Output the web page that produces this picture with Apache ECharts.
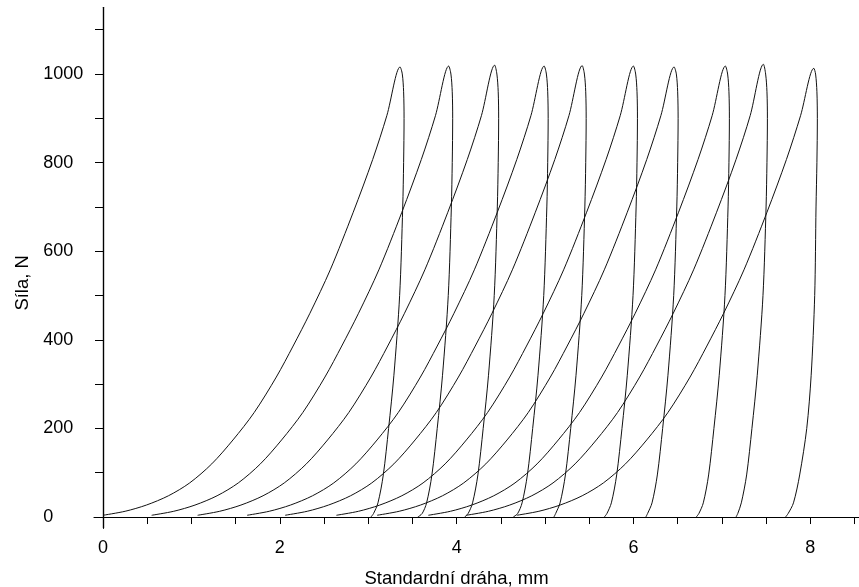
<!DOCTYPE html>
<html>
<head>
<meta charset="utf-8">
<script src="https://cdn.jsdelivr.net/npm/echarts@6/dist/echarts.min.js"></script>
<style>
  html, body { margin: 0; padding: 0; background: #fff; }
  #chart { width: 859px; height: 587px; }
</style>
</head>
<body>
<div id="chart"></div>
<script>
// tick and label positions
var xTicks = [0, 0.5, 1, 1.5, 2, 2.5, 3, 3.5, 4, 4.5, 5, 5.5, 6, 6.5, 7, 7.5, 8, 8.5];
var xLabels = [0, 2, 4, 6, 8];
var yTicks = [0, 100, 200, 300, 400, 500, 600, 700, 800, 900, 1000, 1100];
var yLabels = [0, 200, 400, 600, 800, 1000];

// force levels (N) at which the loading branch was read
var loadForce = [4, 13, 27, 48, 77, 120, 174, 236, 316, 386, 460, 558, 688, 807, 906];
// displacement (mm) of each loading branch at those force levels
var loadDisp = [
  [0.00, 0.25, 0.49, 0.74, 0.98, 1.23, 1.47, 1.71, 1.96, 2.15, 2.34, 2.57, 2.83, 3.05, 3.21],
  [0.55, 0.80, 1.04, 1.29, 1.53, 1.78, 2.02, 2.26, 2.51, 2.70, 2.89, 3.12, 3.38, 3.60, 3.76],
  [1.07, 1.32, 1.56, 1.81, 2.05, 2.30, 2.54, 2.78, 3.03, 3.22, 3.41, 3.64, 3.90, 4.12, 4.28],
  [1.63, 1.88, 2.12, 2.37, 2.61, 2.86, 3.10, 3.34, 3.59, 3.78, 3.97, 4.20, 4.46, 4.68, 4.84],
  [2.06, 2.31, 2.55, 2.80, 3.04, 3.29, 3.53, 3.77, 4.02, 4.21, 4.40, 4.63, 4.89, 5.11, 5.27],
  [2.64, 2.89, 3.13, 3.38, 3.62, 3.87, 4.11, 4.35, 4.60, 4.79, 4.98, 5.21, 5.47, 5.69, 5.85],
  [3.10, 3.35, 3.59, 3.84, 4.08, 4.33, 4.57, 4.81, 5.06, 5.25, 5.44, 5.67, 5.93, 6.15, 6.31],
  [3.68, 3.93, 4.17, 4.42, 4.66, 4.91, 5.15, 5.39, 5.64, 5.83, 6.02, 6.25, 6.51, 6.73, 6.89],
  [4.11, 4.36, 4.60, 4.85, 5.09, 5.34, 5.58, 5.82, 6.07, 6.26, 6.45, 6.68, 6.94, 7.16, 7.32],
  [4.68, 4.93, 5.17, 5.42, 5.66, 5.91, 6.15, 6.39, 6.64, 6.83, 7.02, 7.25, 7.51, 7.73, 7.89]
];

// peak of every cycle
var peakDisp = [3.36, 3.91, 4.43, 4.99, 5.42, 6.00, 6.46, 7.04, 7.47, 8.04];
var peakForce = [1016, 1018, 1020, 1018, 1019, 1018, 1016, 1018, 1022, 1013];

// unloading branch
var unloadForce = [1000, 960, 900, 800, 700, 500, 320, 200, 95, 32, 8, 0];
var unloadDisp = [
  [3.385, 3.40, 3.405, 3.40, 3.39, 3.355, 3.29, 3.23, 3.17, 3.11, 3.06, 3.03],
  [3.935, 3.95, 3.955, 3.95, 3.94, 3.905, 3.84, 3.78, 3.72, 3.66, 3.61, 3.56],
  [4.455, 4.47, 4.475, 4.47, 4.46, 4.425, 4.36, 4.30, 4.24, 4.18, 4.13, 4.09],
  [5.015, 5.03, 5.035, 5.03, 5.02, 4.985, 4.92, 4.86, 4.80, 4.74, 4.69, 4.64],
  [5.445, 5.46, 5.465, 5.46, 5.45, 5.415, 5.35, 5.29, 5.23, 5.17, 5.12, 5.10],
  [6.025, 6.04, 6.045, 6.04, 6.03, 5.995, 5.93, 5.87, 5.81, 5.75, 5.70, 5.67],
  [6.485, 6.50, 6.505, 6.50, 6.49, 6.455, 6.39, 6.33, 6.27, 6.21, 6.16, 6.14],
  [7.065, 7.08, 7.085, 7.08, 7.07, 7.035, 6.97, 6.91, 6.85, 6.79, 6.74, 6.71],
  [7.495, 7.51, 7.515, 7.51, 7.50, 7.465, 7.40, 7.34, 7.28, 7.22, 7.18, 7.16],
  [8.06, 8.075, 8.08, 8.075, 8.065, 8.05, 8.01, 7.96, 7.88, 7.81, 7.75, 7.72]
];

var font = "'Liberation Sans', Arial, sans-serif";
var axisColor = '#000';

var series = [];
for (var i = 0; i < peakDisp.length; i++) {
  var pts = [];
  loadDisp[i].forEach(function (x, k) { pts.push([x, loadForce[k]]); });
  pts.push([peakDisp[i], peakForce[i]]);
  unloadDisp[i].forEach(function (x, k) { pts.push([x, unloadForce[k]]); });
  series.push({
    type: 'line',
    xAxisIndex: 0,
    yAxisIndex: 0,
    data: pts,
    showSymbol: false,
    smooth: 0.3,
    lineStyle: { color: '#111', width: 1 },
    silent: true
  });
}

// second axis of each pair only draws ticks on the other side of the line
function xAxisCfg(pos, main) {
  return {
    type: 'value',
    position: pos,
    min: -0.1,
    max: 8.55,
    splitLine: { show: false },
    axisLine: { show: true, onZero: true, onZeroAxisIndex: 0, lineStyle: { color: axisColor, width: 1.2 } },
    axisTick: { show: true, inside: !main, customValues: xTicks, length: 7,
                lineStyle: { color: axisColor, width: 1 } },
    axisLabel: main
      ? { customValues: xLabels, margin: 11, fontSize: 18, color: '#000', fontFamily: font,
          formatter: function (v) { return String(v); } }
      : { show: false },
    name: main ? 'Standardní dráha, mm' : '',
    nameLocation: 'middle',
    nameGap: 41,
    nameTextStyle: { fontSize: 18.5, color: '#000', fontFamily: font, padding: [0, 40, 0, 0] }
  };
}

function yAxisCfg(pos, main) {
  return {
    type: 'value',
    position: pos,
    min: -25,
    max: 1150,
    splitLine: { show: false },
    axisLine: { show: true, onZero: true, onZeroAxisIndex: 0, lineStyle: { color: axisColor, width: 1.2 } },
    axisTick: { show: true, inside: !main, customValues: yTicks, length: 8,
                lineStyle: { color: axisColor, width: 1 } },
    axisLabel: main
      ? { customValues: yLabels, margin: 51, align: 'left', fontSize: 18, color: '#000', fontFamily: font,
          formatter: function (v) { return String(v); } }
      : { show: false },
    name: main ? 'Síla, N' : '',
    nameLocation: 'middle',
    nameGap: 57,
    nameTextStyle: { fontSize: 18.5, color: '#000', fontFamily: font, padding: [0, 30, 0, 0] }
  };
}

var chart = echarts.init(document.getElementById('chart'));
chart.setOption({
  animation: false,
  backgroundColor: '#fff',
  grid: { left: 94.2, top: 7.6, width: 764.7, height: 520.5, containLabel: false, outerBoundsMode: 'none' },
  xAxis: [xAxisCfg('bottom', true), xAxisCfg('top', false)],
  yAxis: [yAxisCfg('left', true), yAxisCfg('right', false)],
  series: series
});
</script>
</body>
</html>
